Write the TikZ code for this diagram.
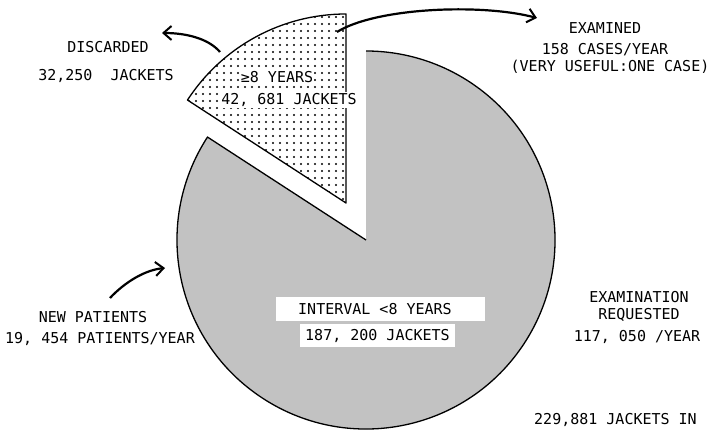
\documentclass[tikz,border=0pt]{standalone}
\usepackage{fontspec}
\setmonofont{DejaVu Sans Mono}
\usetikzlibrary{arrows.meta}
\begin{document}
\begin{tikzpicture}[x=1pt,y=1pt,
  lbl/.style={font=\ttfamily\fontsize{15}{17}\selectfont, inner sep=1pt},
  wlbl/.style={lbl, fill=white},
  wbox/.style={fill=white, inner sep=0pt},
  flow/.style={line width=2.2pt, -{Straight Barb[length=8pt,width=14pt,line width=2pt]}},
  pieline/.style={line width=1.3pt, line join=round}]
\useasboundingbox (0,0) rectangle (709,431);
\coordinate (c) at (366,191);
\coordinate (s) at (346,228);
% main pie
\fill[black!24] (c) -- ++(147:189pt) arc[start angle=147,end angle=450,radius=189pt] -- cycle;
\draw[pieline] (c) -- ++(147:189pt) arc[start angle=147,end angle=450,radius=189pt];
% exploded slice with dots
\begin{scope}
  \clip (s) -- ++(90:189pt) arc[start angle=90,end angle=147,radius=189pt] -- cycle;
  \foreach \i in {0,...,23} \foreach \j in {0,...,28}
    \fill (189+7*\i, 225+7*\j) circle (1.2pt);
\end{scope}
\draw[pieline] (s) -- ++(90:189pt) arc[start angle=90,end angle=147,radius=189pt] -- cycle;
\node[wlbl] (yrs) at (277,354) {≥8 YEARS};
\node[wlbl] (jk) at (289,331) {42, 681 JACKETS};
% boxes in main pie
\node[wbox, minimum width=209pt, minimum height=24pt] (ibox) at (380.5,122) {};
\node[lbl, anchor=west] (itxt) at (297,122) {INTERVAL <8 YEARS};
\node[wbox, minimum width=155pt, minimum height=23pt] (jbox) at (377.5,95.5) {};
\node[lbl, anchor=west] (jtxt) at (304,95.5) {187, 200 JACKETS};
% left labels
\node[lbl] (disc) at (108,384) {DISCARDED};
\node[lbl] (discn) at (106,355) {32,250\ \ JACKETS};
\node[lbl] (newp) at (93,114) {NEW PATIENTS};
\node[lbl] (newn) at (100,92) {19, 454 PATIENTS/YEAR};
% right labels
\node[lbl] (exa) at (605,403) {EXAMINED};
\node[lbl] (exb) at (605,381) {158 CASES/YEAR};
\node[lbl] (exc) at (610,364) {(VERY USEFUL:ONE CASE)};
\node[lbl] (rqa) at (639,134) {EXAMINATION};
\node[lbl] (rqb) at (639,116) {REQUESTED};
\node[lbl] (rqc) at (637,94) {117, 050 /YEAR};
\node[lbl, anchor=west] (tot) at (533,11) {229,881 JACKETS IN};
% arrows
\coordinate (d1) at (220,379);
\coordinate (d2) at (162,398);
\draw[flow] (d1) .. controls (208,393) and (185,398) .. (d2);
\coordinate (e1) at (337,399);
\coordinate (e2) at (537,413);
\draw[flow] (e1) .. controls (375,423) and (480,428) .. (e2);
\coordinate (n1) at (110,133);
\coordinate (n2) at (165,163);
\draw[flow] (n1) .. controls (125,149) and (145,161) .. (n2);
\end{tikzpicture}
\end{document}
